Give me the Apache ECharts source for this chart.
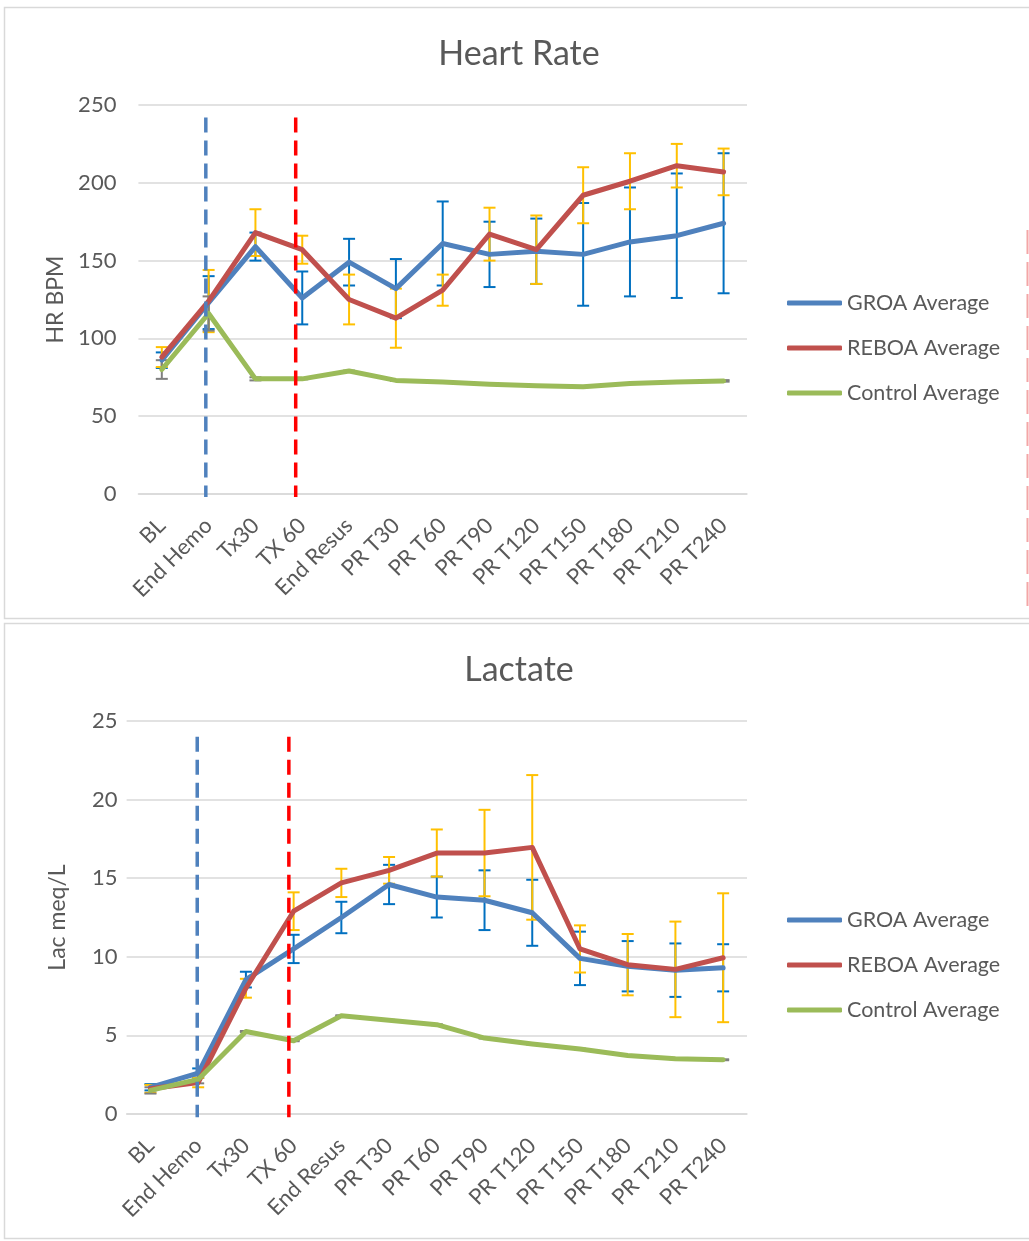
<!DOCTYPE html>
<html>
<head>
<meta charset="utf-8">
<script src="https://cdn.jsdelivr.net/npm/echarts@6/dist/echarts.min.js"></script>
<style>
  html, body { margin: 0; padding: 0; background: #ffffff; }
  #chart { width: 1029px; height: 1241px; }
</style>
</head>
<body>
<div id="chart"></div>
<script>
// Time points of the protocol
const categories = ['BL', 'End Hemo', 'Tx30', 'TX 60', 'End Resus', 'PR T30', 'PR T60',
  'PR T90', 'PR T120', 'PR T150', 'PR T180', 'PR T210', 'PR T240'];

// Heart rate (BPM): group means and standard deviations
const hrGroa       = [86, 123, 159, 126, 149, 132, 161, 154, 156, 154, 162, 166, 174];
const hrGroaSd     = [5, 17, 9, 17, 15, 19, 27, 21, 21, 33, 35, 40, 45];
const hrReboa      = [88, 124, 168, 157, 125, 113, 131, 167, 157, 192, 201, 211, 207];
const hrReboaSd    = [6.4, 20, 15, 9, 16, 19, 10, 17, 22, 18, 18, 14, 15];
const hrControl    = [80, 116, 74, 74, 79, 73, 72, 70.5, 69.6, 69, 71, 72, 72.7];
const hrControlSd  = [6, 11, 1, 0.3, 0.3, 0.3, 0.3, 0.3, 0.3, 0.3, 0.3, 0.3, 0.5];

// Lactate (meq/L): group means and standard deviations
const lacGroa      = [1.7, 2.6, 8.55, 10.5, 12.5, 14.6, 13.8, 13.6, 12.8, 9.9, 9.4, 9.15, 9.3];
const lacGroaSd    = [0.2, 0.3, 0.5, 0.9, 1.0, 1.25, 1.3, 1.9, 2.1, 1.7, 1.6, 1.7, 1.5];
const lacReboa     = [1.6, 2.0, 8.0, 12.9, 14.7, 15.5, 16.6, 16.6, 16.96, 10.5, 9.5, 9.2, 9.94];
const lacReboaSd   = [0.25, 0.3, 0.6, 1.2, 0.9, 0.85, 1.5, 2.75, 4.6, 1.5, 1.95, 3.04, 4.1];
const lacControl   = [1.5, 2.2, 5.25, 4.66, 6.25, 5.96, 5.68, 4.83, 4.45, 4.13, 3.72, 3.51, 3.45];
const lacControlSd = [0.2, 0.25, 0.03, 0.03, 0.03, 0.03, 0.03, 0.03, 0.03, 0.03, 0.03, 0.03, 0.03];

// Event markers (end of hemorrhage, start of treatment) as category positions, with vertical extent
const hrMarkers   = [0.94, 2.86];
const hrMarkerSpan  = [242, -2];
const lacMarkers  = [0.98, 2.9];
const lacMarkerSpan = [24, -0.2];

const seriesNames = ['GROA Average', 'REBOA Average', 'Control Average'];
const lineColors  = ['#4f81bd', '#c0504d', '#9bbb59'];
const errColors   = ['#0070c0', '#ffc000', '#7f7f7f'];
const markerColors = ['#4f81bd', '#ff0000'];

const FONT = 'Lato, "Open Sans", sans-serif';
const TEXT = '#595959';
const GRID_LINE = '#d9d9d9';

function errorData(mean, sd) {
  return mean.map((m, i) => [i, m - sd[i], m + sd[i]]);
}

function errRender(color) {
  return function (params, api) {
    const x = api.value(0);
    const top = api.coord([x, api.value(2)]);
    const bot = api.coord([x, api.value(1)]);
    const half = 6;
    const style = { stroke: color, lineWidth: 2, fill: null };
    return {
      type: 'group',
      children: [
        { type: 'line', shape: { x1: top[0], y1: top[1], x2: bot[0], y2: bot[1] }, style },
        { type: 'line', shape: { x1: top[0] - half, y1: top[1], x2: top[0] + half, y2: top[1] }, style },
        { type: 'line', shape: { x1: bot[0] - half, y1: bot[1], x2: bot[0] + half, y2: bot[1] }, style }
      ]
    };
  };
}

function panelSeries(gridIdx, means, sds, markers, span) {
  const out = [];
  // error bars under the lines
  means.forEach((m, k) => {
    out.push({
      type: 'custom',
      name: seriesNames[k] + ' SD',
      xAxisIndex: gridIdx, yAxisIndex: gridIdx,
      renderItem: errRender(errColors[k]),
      encode: { x: 0, y: [1, 2] },
      data: errorData(m, sds[k]),
      z: 2, silent: true
    });
  });
  means.forEach((m, k) => {
    out.push({
      type: 'line',
      name: seriesNames[k],
      xAxisIndex: gridIdx, yAxisIndex: gridIdx,
      data: m,
      showSymbol: false, symbol: 'none',
      lineStyle: { color: lineColors[k], width: 5, cap: 'round', join: 'round' },
      itemStyle: { color: lineColors[k] },
      z: 3 + k
    });
  });
  markers.forEach((pos, k) => {
    out.push({
      type: 'line',
      name: 'marker' + gridIdx + '_' + k,
      xAxisIndex: gridIdx + 2, yAxisIndex: gridIdx,
      data: [[pos, span[0]], [pos, span[1]]],
      showSymbol: false, symbol: 'none', clip: false,
      lineStyle: { color: markerColors[k], width: 3.5, type: [15, 8] },
      z: 10, silent: true
    });
  });
  return out;
}

function catAxis(gridIndex) {
  return {
    type: 'category', gridIndex, data: categories, boundaryGap: true,
    axisLine: { lineStyle: { color: GRID_LINE, width: 1.5 } },
    axisTick: { show: false },
    axisLabel: { rotate: 45, margin: 28, color: TEXT, fontSize: 22, fontFamily: FONT, interval: 0 }
  };
}

function valAxis(gridIndex, max, interval, name, nameGap, labelMargin) {
  return {
    type: 'value', gridIndex, min: 0, max, interval,
    name, nameLocation: 'middle', nameGap, nameRotate: 90,
    nameTextStyle: { color: TEXT, fontSize: 23, fontFamily: FONT },
    axisLine: { show: false }, axisTick: { show: false },
    axisLabel: { color: TEXT, fontSize: 22, fontFamily: FONT, margin: labelMargin },
    splitLine: { lineStyle: { color: GRID_LINE, width: 1.5 } }
  };
}

function hiddenX(gridIndex) {
  return { type: 'value', gridIndex, min: -0.5, max: 12.5, show: false };
}

function legendFor(top) {
  return {
    orient: 'vertical', left: 787, top, padding: 0,
    data: seriesNames, icon: 'roundRect',
    itemWidth: 55, itemHeight: 5, itemGap: 21,
    textStyle: { color: TEXT, fontSize: 21.5, fontFamily: FONT, lineHeight: 24 },
    selectedMode: false
  };
}

const chart = echarts.init(document.getElementById('chart'), null, { renderer: 'canvas' });

chart.setOption({
  backgroundColor: '#ffffff',
  animation: false,
  title: [
    { text: 'Heart Rate', left: 514, top: 32, textAlign: 'center',
      textStyle: { color: TEXT, fontSize: 34, fontWeight: 'normal', fontFamily: FONT } },
    { text: 'Lactate', left: 514, top: 648, textAlign: 'center',
      textStyle: { color: TEXT, fontSize: 34, fontWeight: 'normal', fontFamily: FONT } }
  ],
  legend: [legendFor(291), legendFor(908)],
  grid: [
    { left: 138.4, right: 282, top: 105, height: 389, containLabel: false },
    { left: 126.6, right: 282, top: 721, height: 393, containLabel: false }
  ],
  xAxis: [catAxis(0), catAxis(1), hiddenX(0), hiddenX(1)],
  yAxis: [
    valAxis(0, 250, 50, 'HR BPM', 67, 22),
    valAxis(1, 25, 5, 'Lac meq/L', 58, 9)
  ],
  series: [].concat(
    panelSeries(0, [hrGroa, hrReboa, hrControl], [hrGroaSd, hrReboaSd, hrControlSd], hrMarkers, hrMarkerSpan),
    panelSeries(1, [lacGroa, lacReboa, lacControl], [lacGroaSd, lacReboaSd, lacControlSd], lacMarkers, lacMarkerSpan)
  ),
  graphic: [
    // panel frames
    { type: 'rect', shape: { x: 4.5, y: 7.5, width: 1040, height: 611 },
      style: { fill: null, stroke: GRID_LINE, lineWidth: 1.5 }, z: -1, silent: true },
    { type: 'rect', shape: { x: 4.5, y: 623.5, width: 1040, height: 615 },
      style: { fill: null, stroke: GRID_LINE, lineWidth: 1.5 }, z: -1, silent: true },
    // edge of the neighbouring panel's marker
    { type: 'line', shape: { x1: 1027.5, y1: 230, x2: 1027.5, y2: 610 },
      style: { stroke: '#f4a6a6', lineWidth: 2, lineDash: [24, 8] }, silent: true }
  ]
});
</script>
</body>
</html>
